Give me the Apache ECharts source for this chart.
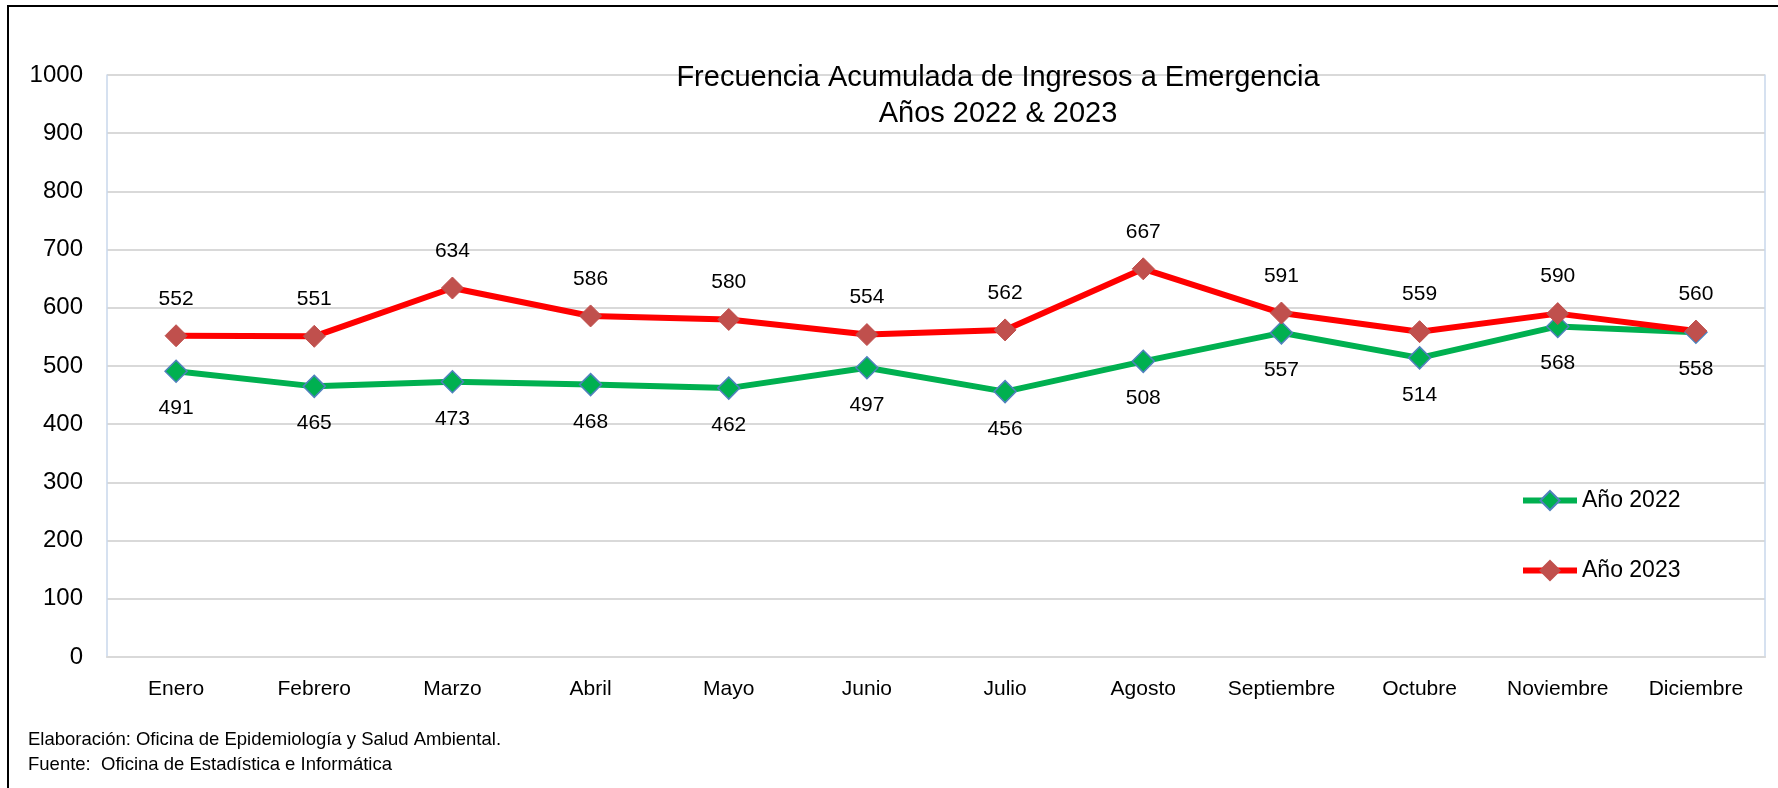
<!DOCTYPE html>
<html>
<head>
<meta charset="utf-8">
<script src="https://cdn.jsdelivr.net/npm/echarts@6/dist/echarts.min.js"></script>
<style>
  html, body { margin: 0; padding: 0; background: #fff; }
  #chart { width: 1778px; height: 788px; }
</style>
</head>
<body>
<div id="chart"></div>
<script>
// datos
var meses = ['Enero', 'Febrero', 'Marzo', 'Abril', 'Mayo', 'Junio', 'Julio', 'Agosto', 'Septiembre', 'Octubre', 'Noviembre', 'Diciembre'];
var anio2022 = [491, 465, 473, 468, 462, 497, 456, 508, 557, 514, 568, 558];
var anio2023 = [552, 551, 634, 586, 580, 554, 562, 667, 591, 559, 590, 560];
var titulo = 'Frecuencia Acumulada de Ingresos a Emergencia\nAños 2022 & 2023';
var notas = ['Elaboración: Oficina de Epidemiología y Salud Ambiental.', 'Fuente:  Oficina de Estadística e Informática'];

var fuente = 'Liberation Sans, Arial, sans-serif';
var bordeAzul = '#c9d7eb';

var myChart = echarts.init(document.getElementById('chart'));

function leyenda(nombre, top, linea) {
  return {
    data: [{ name: nombre, lineStyle: { width: 6, color: linea } }],
    orient: 'vertical',
    left: 1515,
    top: top,
    itemWidth: 54,
    itemHeight: 24,
    textStyle: { fontFamily: fuente, fontSize: 23, color: '#000' }
  };
}

var option = {
  backgroundColor: '#fff',
  animation: false,
  title: {
    text: titulo,
    left: 993,
    top: 55,
    textAlign: 'center',
    textStyle: {
      fontFamily: fuente,
      fontSize: 29,
      fontWeight: 'normal',
      color: '#000',
      lineHeight: 36
    }
  },
  legend: [
    leyenda('Año 2022', 484, '#00b050'),
    leyenda('Año 2023', 554, '#ff0000')
  ],
  grid: {
    left: 107,
    right: 13,
    top: 75,
    bottom: 131
  },
  xAxis: {
    type: 'category',
    data: meses,
    boundaryGap: true,
    axisLine: { show: true, lineStyle: { color: '#d9d9d9', width: 2 } },
    axisTick: { show: false },
    axisLabel: { fontFamily: fuente, fontSize: 21, color: '#000', margin: 22, interval: 0 }
  },
  yAxis: [
    {
      type: 'value',
      min: 0,
      max: 1000,
      interval: 100,
      axisLine: { show: true, lineStyle: { color: bordeAzul, width: 1.5 } },
      axisTick: { show: false },
      axisLabel: {
        fontFamily: fuente, fontSize: 24, color: '#000', margin: 24,
        formatter: function (v) { return String(v); }
      },
      splitLine: { lineStyle: { color: '#d9d9d9', width: 2 } }
    },
    {
      type: 'value',
      position: 'right',
      min: 0,
      max: 1000,
      interval: 100,
      axisLine: { show: true, lineStyle: { color: bordeAzul, width: 1.5 } },
      axisTick: { show: false },
      axisLabel: { show: false },
      splitLine: { show: false }
    }
  ],
  graphic: [
    {
      type: 'rect',
      shape: { x: 8, y: 6, width: 1790, height: 820 },
      style: { fill: 'none', stroke: '#000', lineWidth: 2 },
      silent: true
    },
    {
      type: 'text',
      left: 28,
      top: 730,
      style: { text: notas[0], font: '18.5px ' + fuente, fill: '#000' }
    },
    {
      type: 'text',
      left: 28,
      top: 755,
      style: { text: notas[1], font: '18.5px ' + fuente, fill: '#000' }
    }
  ],
  series: [
    {
      name: 'Año 2022',
      type: 'line',
      data: anio2022,
      symbol: 'diamond',
      symbolSize: 22,
      lineStyle: { color: '#00b050', width: 6 },
      itemStyle: { color: '#00b050', borderColor: '#4f81bd', borderWidth: 1.5 },
      label: {
        show: true,
        position: 'bottom',
        distance: 15,
        fontFamily: fuente,
        fontSize: 21,
        color: '#000'
      }
    },
    {
      name: 'Año 2023',
      type: 'line',
      data: anio2023,
      symbol: 'diamond',
      symbolSize: 22,
      lineStyle: { color: '#ff0000', width: 6 },
      itemStyle: { color: '#c0504d', borderColor: '#c0504d', borderWidth: 1 },
      label: {
        show: true,
        position: 'top',
        distance: 15,
        fontFamily: fuente,
        fontSize: 21,
        color: '#000'
      }
    }
  ]
};

myChart.setOption(option);
</script>
</body>
</html>
